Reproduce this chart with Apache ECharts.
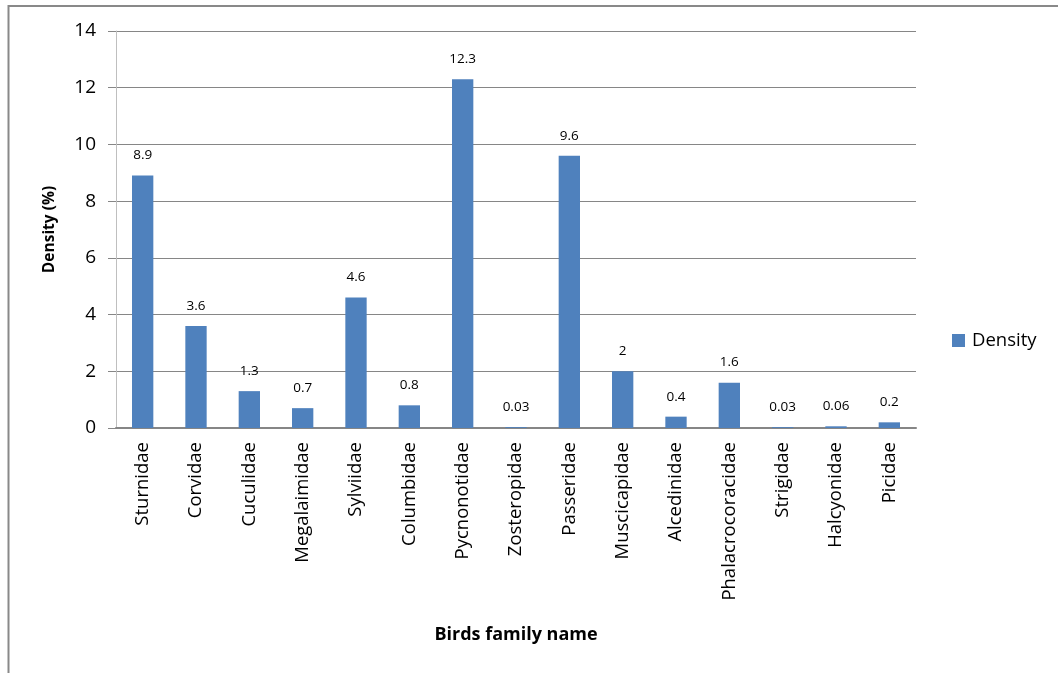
<!DOCTYPE html>
<html><head><meta charset="utf-8">
<script src="https://cdn.jsdelivr.net/npm/echarts@6/dist/echarts.min.js"></script>
<style>html,body{margin:0;padding:0;background:#fff}#c{width:1058px;height:673px}</style>
</head><body><div id="c"></div>
<script>
const categories = ["Sturnidae","Corvidae","Cuculidae","Megalaimidae","Sylviidae","Columbidae","Pycnonotidae","Zosteropidae","Passeridae","Muscicapidae","Alcedinidae","Phalacrocoracidae","Strigidae","Halcyonidae","Picidae"];
const density = [8.9,3.6,1.3,0.7,4.6,0.8,12.3,0.03,9.6,2,0.4,1.6,0.03,0.06,0.2];
const yTicks = [0,2,4,6,8,10,12,14];
const FONT = "Open Sans";
const chart = echarts.init(document.getElementById('c'), null, {renderer:'canvas'});
chart.setOption({
  animation:false,
  graphic:[{type:'polyline',shape:{points:[[8.5,673],[8.5,6],[1058,6]]},style:{stroke:'#898989',lineWidth:2,fill:null}}],
  grid:{left:116,right:142,top:31,bottom:245,containLabel:false},
  legend:{left:952,top:331,padding:0,orient:'vertical',itemWidth:13,itemHeight:13,itemGap:8,icon:'rect',
    textStyle:{fontFamily:FONT,fontSize:18.5,color:'#000',padding:[0,0,0,2]},data:['Density']},
  xAxis:{type:'category',data:categories,
    name:'Birds family name',nameLocation:'middle',nameGap:198,
    nameTextStyle:{fontFamily:FONT,fontSize:18,fontWeight:'bold',color:'#000'},
    axisLine:{lineStyle:{color:'#868686',width:2}},axisTick:{show:false},
    axisLabel:{rotate:90,fontFamily:FONT,fontSize:18.5,color:'#000',margin:14,interval:0}},
  yAxis:{type:'value',min:0,max:14,interval:2,
    name:'Density (%)',nameLocation:'middle',nameGap:58,
    nameTextStyle:{fontFamily:FONT,fontSize:15.5,fontWeight:'bold',color:'#000'},
    axisLine:{show:true,lineStyle:{color:'#bfbfbf',width:1}},
    axisTick:{show:true,length:8,lineStyle:{color:'#868686'}},
    axisLabel:{fontFamily:FONT,fontSize:19,color:'#000',margin:20,
      formatter:v=>yTicks.includes(v)?String(v):''},
    splitLine:{lineStyle:{color:'#868686',width:1}}},
  series:[{name:'Density',type:'bar',data:density,barWidth:'40%',
    itemStyle:{color:'#4f81bd'},
    label:{show:true,position:'top',distance:13,fontFamily:FONT,fontSize:13.5,color:'#000'}}]
});
</script></body></html>
